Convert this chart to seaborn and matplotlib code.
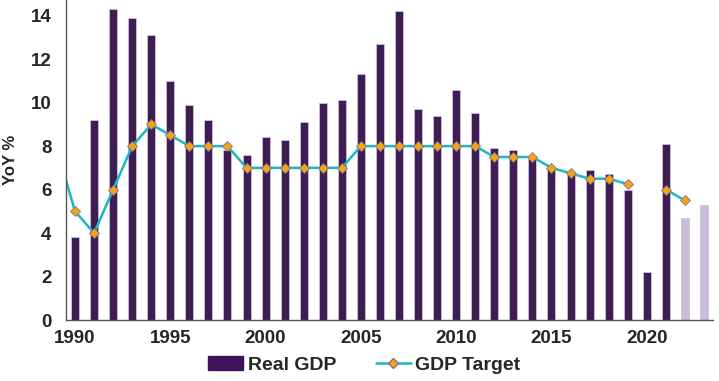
import numpy as np
import pandas as pd
import seaborn as sns
import matplotlib.pyplot as plt
from matplotlib.patches import Patch
from matplotlib.lines import Line2D
from matplotlib.ticker import FixedLocator

years = list(range(1990, 2024))
real_gdp = [3.8, 9.2, 14.3, 13.9, 13.1, 11.0, 9.9, 9.2, 7.8, 7.6,
            8.4, 8.3, 9.1, 10.0, 10.1, 11.3, 12.7, 14.2, 9.7, 9.4,
            10.6, 9.5, 7.9, 7.8, 7.4, 7.0, 6.8, 6.9, 6.7, 6.0,
            2.2, 8.1, 4.7, 5.3]
# last two years are forecasts (lighter bars)
kind = ["actual"] * 32 + ["forecast"] * 2

target_years = list(range(1989, 2020)) + [2021, 2022]
gdp_target = [8.0, 5.0, 4.0, 6.0, 8.0, 9.0, 8.5, 8.0, 8.0, 8.0, 7.0,
              7.0, 7.0, 7.0, 7.0, 7.0, 8.0, 8.0, 8.0, 8.0, 8.0,
              8.0, 8.0, 7.5, 7.5, 7.5, 7.0, 6.75, 6.5, 6.5, 6.25,
              6.0, 5.5]
# no target was set for 2020, so the line breaks there
segment = [0] * 31 + [1] * 2

bars = pd.DataFrame({"year": years, "gdp": real_gdp, "kind": kind})
target = pd.DataFrame({"year": target_years, "target": gdp_target, "seg": segment})

sns.set_style("white")
plt.rcParams['font.family'] = ['Liberation Sans', 'DejaVu Sans']
plt.rcParams['font.weight'] = 'bold'

purple = "#40145c"
light = "#c8b9db"
teal = "#1db6c1"
orange = "#f4a70c"

fig = plt.figure(figsize=(7.19, 3.81), dpi=100)
ax = fig.add_axes([0.0911, 0.160, 0.9012, 0.840])

sns.barplot(data=bars, x="year", y="gdp", hue="kind", native_scale=True,
            palette={"actual": purple, "forecast": light}, dodge=False,
            width=0.42, edgecolor="#cdbfe0", linewidth=0.6, legend=False, ax=ax)
sns.lineplot(data=target, x="year", y="target", units="seg", estimator=None,
             color=teal, linewidth=1.8,
             marker="D", markersize=5, markerfacecolor=orange,
             markeredgecolor="#8a6a9a", markeredgewidth=0.6, ax=ax)

ax.set_xlim(1989.5, 2023.5)
ax.set_ylim(0, 14.72)
ax.set_yticks(range(0, 15, 2))
ax.set_xticks(range(1990, 2021, 5))
ax.xaxis.set_minor_locator(FixedLocator(np.arange(1989.5, 2024, 1)))
ax.tick_params(axis="x", which="major", length=0, pad=7, labelsize=13.5)
ax.tick_params(axis="x", which="minor", length=5, width=1, color="#555555", direction="out")
ax.tick_params(axis="y", length=5, width=1, color="#555555", direction="out", labelsize=13.5, pad=5)
ax.set_xlabel("")
ax.set_ylabel("YoY %", fontsize=12, fontweight="bold", labelpad=9)

for side in ["top", "right"]:
    ax.spines[side].set_visible(False)
for side in ["left", "bottom"]:
    ax.spines[side].set_color("#555555")
    ax.spines[side].set_linewidth(1)

handles = [Patch(facecolor=purple, edgecolor=purple),
           Line2D([0], [0], color=teal, linewidth=1.8, marker="D", markersize=5,
                  markerfacecolor=orange, markeredgecolor="#8a6a9a")]
fig.legend(handles, ["Real GDP", "GDP Target"], loc="center",
           bbox_to_anchor=(0.507, 0.042), ncol=2, frameon=False,
           prop={"size": 14, "weight": "bold"}, handlelength=1.8,
           columnspacing=2.0, handletextpad=0.25)

fig.savefig("out.png", dpi=100)
